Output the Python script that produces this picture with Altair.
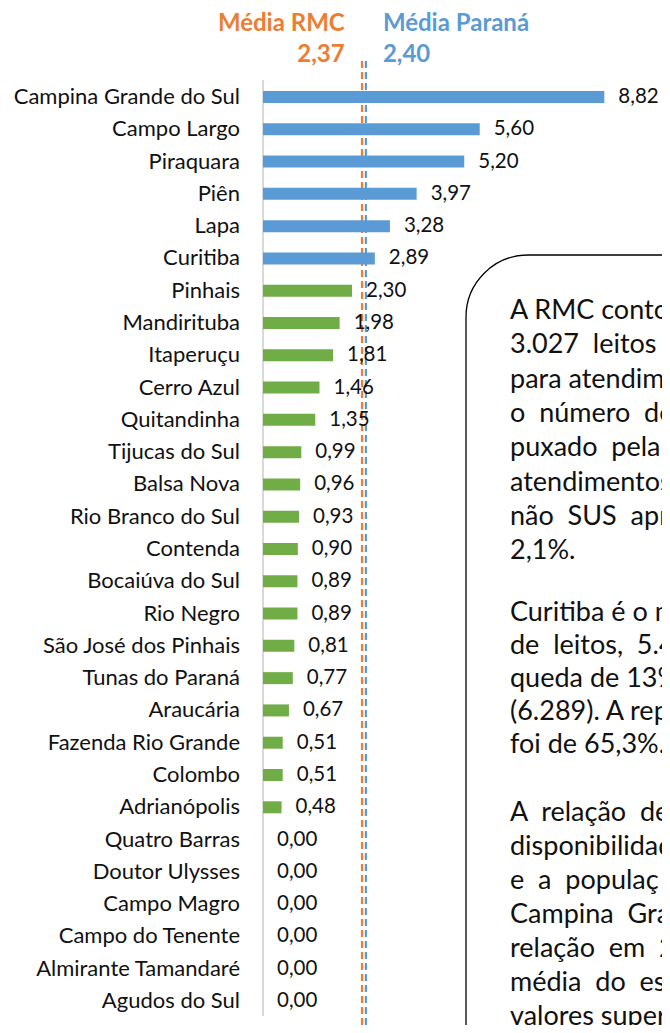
import altair as alt
import pandas as pd

# ---------------- data ----------------
municipios = [
    "Campina Grande do Sul", "Campo Largo", "Piraquara", "Piên", "Lapa",
    "Curitiba", "Pinhais", "Mandirituba", "Itaperuçu", "Cerro Azul",
    "Quitandinha", "Tijucas do Sul", "Balsa Nova", "Rio Branco do Sul",
    "Contenda", "Bocaiúva do Sul", "Rio Negro", "São José dos Pinhais",
    "Tunas do Paraná", "Araucária", "Fazenda Rio Grande", "Colombo",
    "Adrianópolis", "Quatro Barras", "Doutor Ulysses", "Campo Magro",
    "Campo do Tenente", "Almirante Tamandaré", "Agudos do Sul",
]
valores = [
    8.82, 5.60, 5.20, 3.97, 3.28, 2.89, 2.30, 1.98, 1.81, 1.46,
    1.35, 0.99, 0.96, 0.93, 0.90, 0.89, 0.89, 0.81, 0.77, 0.67,
    0.51, 0.51, 0.48, 0.00, 0.00, 0.00, 0.00, 0.00, 0.00,
]
media_rmc = 2.37
media_parana = 2.40
titulo_rmc = ["Média RMC", "2,37"]
titulo_parana = ["Média Paraná", "2,40"]

# text box paragraphs (as visible; justified spacing imitated with extra spaces)
paragrafo_1 = [
    ["A", "RMC", "conto"],
    ["3.027", "leitos", "p"],
    ["para", "atendim"],
    ["o", "número", "de"],
    ["puxado", "pela"],
    ["atendimentos"],
    ["não", "SUS", "apr"],
    ["2,1%."],
]
paragrafo_2 = [
    ["Curitiba", "é", "o", "m"],
    ["de", "leitos,", "5.4"],
    ["queda", "de", "13%"],
    ["(6.289).", "A", "rep"],
    ["foi", "de", "65,3%."],
]
paragrafo_3 = [
    ["A", "relação", "de"],
    ["disponibilidad"],
    ["e", "a", "populaç"],
    ["Campina", "Gra"],
    ["relação", "em", "2"],
    ["média", "do", "es"],
    ["valores", "superi"],
]
extra_1 = [0, 1, 0, 1, 1, 0, 1, 0]
extra_2 = [0, 1, 0, 0, 0]
extra_3 = [1, 0, 1, 1, 1, 1, 0]

# ---------------- style ----------------
FONT = "Lato"
BLUE = "#5B9BD5"
GREEN = "#70AD47"
ORANGE = "#ED7D31"
TXT = "#111111"
W, H = 654, 1017
X0, PX = 255.0, 38.7          # zero position and px per unit
Y0, STEP = 89.0, 32.286        # first row centre and row step

df = pd.DataFrame({"municipio": municipios, "valor": valores})
df["ordem"] = range(len(df))
df["rotulo"] = [f"{v:.2f}".replace(".", ",") for v in valores]
df["grupo"] = ["acima" if v > media_parana else "abaixo" for v in valores]


def juntar(par, extras):
    return [(" " + "\u00a0" * k).join(p) for p, k in zip(par, extras)]


xs = alt.Scale(domain=[-X0 / PX, (W - X0) / PX], nice=False, zero=False)
ys = alt.Scale(domain=[-Y0 / STEP, (H - Y0) / STEP], nice=False, zero=False, reverse=True)

base = alt.Chart(df)

barras = base.mark_rule(strokeWidth=12, strokeCap="butt").encode(
    x=alt.X("valor:Q", scale=xs, axis=None),
    x2=alt.datum(0),
    y=alt.Y("ordem:Q", scale=ys, axis=None),
    color=alt.Color("grupo:N", scale=alt.Scale(domain=["acima", "abaixo"], range=[BLUE, GREEN]), legend=None),
)

eixo = alt.Chart(pd.DataFrame({"v": [0.0]})).mark_rule(color="#d9d9d9", strokeWidth=2).encode(
    x=alt.X("v:Q", scale=xs, axis=None), y=alt.value(72), y2=alt.value(1008)
)

nomes = base.mark_text(align="right", baseline="middle", font=FONT, fontSize=22, color=TXT).encode(
    x=alt.value(232), y=alt.Y("ordem:Q", scale=ys, axis=None), text="municipio:N"
)

rotulos = base.mark_text(align="left", baseline="middle", font=FONT, fontSize=20.5, color=TXT, dx=14).encode(
    x=alt.X("valor:Q", scale=xs, axis=None), y=alt.Y("ordem:Q", scale=ys, axis=None), text="rotulo:N"
)


def linha_media(valor, cor, desloc):
    return alt.Chart(pd.DataFrame({"v": [valor]})).mark_rule(
        color=cor, strokeWidth=2.2, strokeDash=[7, 4], xOffset=desloc
    ).encode(x=alt.X("v:Q", scale=xs, axis=None), y=alt.value(53), y2=alt.value(H))


def titulo(valor, textos, cor, alinh, dx):
    camadas = []
    for i, t in enumerate(textos):
        camadas.append(
            alt.Chart(pd.DataFrame({"v": [valor], "t": [t]})).mark_text(
                align=alinh, baseline="middle", font=FONT, fontSize=24, fontWeight="bold", color=cor, dx=dx
            ).encode(x=alt.X("v:Q", scale=xs, axis=None), y=alt.value(16 + 31 * i), text="t:N")
        )
    return camadas


caixa = alt.Chart(pd.DataFrame({"k": [0]})).mark_rect(
    cornerRadiusTopLeft=62, fill="white", stroke="black", strokeWidth=1.3
).encode(x=alt.value(458), x2=alt.value(760), y=alt.value(247), y2=alt.value(1150))


def paragrafo(linhas, y, lh):
    return alt.Chart(pd.DataFrame({"k": [0]})).mark_text(
        text=linhas, align="left", baseline="alphabetic", font=FONT, fontSize=27,
        lineHeight=lh, color=TXT
    ).encode(x=alt.value(502), y=alt.value(y))


textos = [
    paragrafo(juntar(paragrafo_1, extra_1), 311, 34.3),
    paragrafo(juntar(paragrafo_2, extra_2), 613, 33.0),
    paragrafo(juntar(paragrafo_3, extra_3), 813, 34.0),
]

chart = alt.layer(
    eixo,
    linha_media(media_rmc, ORANGE, 7.3),
    linha_media(media_parana, BLUE, 10),
    barras,
    nomes,
    rotulos,
    *titulo(media_rmc, titulo_rmc, ORANGE, "right", -10),
    *titulo(media_parana, titulo_parana, BLUE, "left", 27),
    caixa,
    *textos,
).properties(width=W, height=H, autosize=alt.AutoSizeParams(type="none"), padding=0
).configure_view(stroke=None)

chart.save("out.html", embed_options={"renderer": "svg", "actions": False})
